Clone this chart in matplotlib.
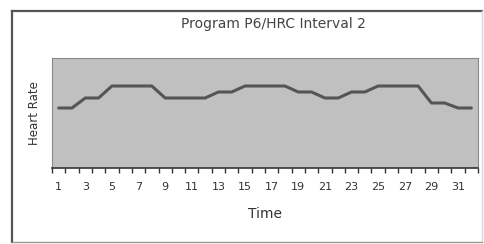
import matplotlib.pyplot as plt
from matplotlib.lines import Line2D
import numpy as np

# dane
time = list(range(1, 33))
heart_rate = [120, 120, 130, 130, 142, 142, 142, 142, 130, 130, 130, 130,
              136, 136, 142, 142, 142, 142, 136, 136, 130, 130, 136, 136,
              142, 142, 142, 142, 125, 125, 120, 120]
tick_labels = [str(t) for t in range(1, 33, 2)]

plt.rcParams['font.family'] = ['DejaVu Sans']

fig = plt.figure(figsize=(4.84, 2.44), dpi=100)
ax = fig.add_axes([52/484, 1 - 168/244, 426/484, 110/244])

ax.set_facecolor('#c0c0c0')
ax.plot(time, heart_rate, color='#555555', lw=2.2, solid_joinstyle='round',
        solid_capstyle='round')

ax.set_xlim(0.5, 32.5)
ax.set_ylim(60, 170)
ax.set_yticks([])

ax.set_xticks(range(1, 33, 2))
ax.set_xticklabels(tick_labels, fontsize=8, color='#333333')
ax.set_xticks(np.arange(0.5, 33, 1), minor=True)
ax.tick_params(axis='x', which='major', length=0, pad=10)
ax.tick_params(axis='x', which='minor', length=3.5, width=1, color='#333333', direction='out')

for s in ['top', 'left', 'right']:
    ax.spines[s].set_color('#8a8a8a')
    ax.spines[s].set_linewidth(0.8)
ax.spines['bottom'].set_color('#333333')
ax.spines['bottom'].set_linewidth(1.2)

ax.set_xlabel('Time', fontsize=10, color='#333333', labelpad=11)
ax.set_ylabel('Heart Rate', fontsize=8.5, color='#333333', labelpad=8)
fig.text(273/484, 1 - 24/244, 'Program P6/HRC Interval 2', fontsize=10,
         ha='center', va='center', color='#444444')

# ramka wykresu
fig.add_artist(Line2D([12/484, 12/484], [1 - 242/244, 1 - 11/244], color='#555555', lw=1.6))
fig.add_artist(Line2D([12/484, 482/484], [1 - 11/244, 1 - 11/244], color='#555555', lw=1.6))
fig.add_artist(Line2D([482/484, 482/484], [1 - 242/244, 1 - 11/244], color='#d8d8d8', lw=1))
fig.add_artist(Line2D([12/484, 482/484], [1 - 242/244, 1 - 242/244], color='#999999', lw=1))

fig.savefig('out.png', dpi=100)
